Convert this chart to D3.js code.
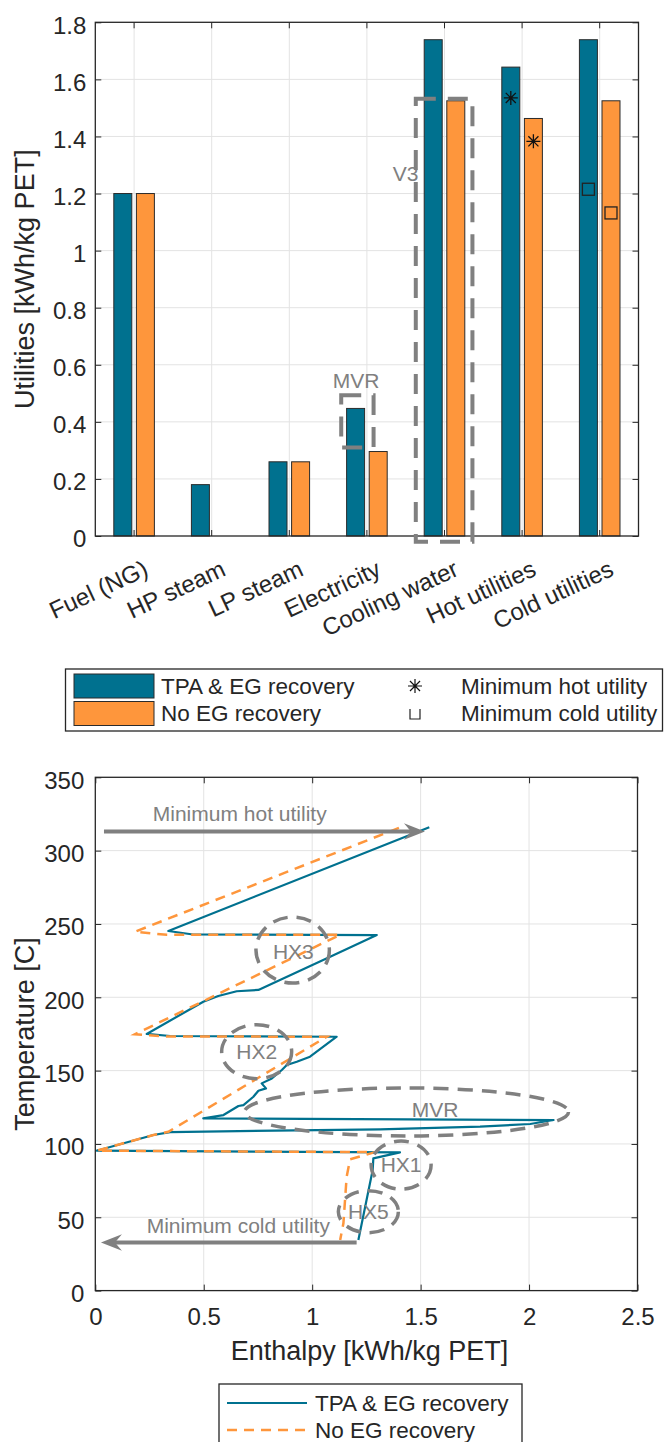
<!DOCTYPE html>
<html><head><meta charset="utf-8">
<script src="https://cdn.jsdelivr.net/npm/d3@7"></script>
<style>
body{margin:0;background:#fff}
svg{display:block}
text{font-family:"Liberation Sans",Arial,Helvetica,sans-serif}
</style>
</head><body>
<svg id="c" width="667" height="1442"></svg>
<script>
// ---------- DATA: top bar chart ----------
const categories = ["Fuel (NG)","HP steam","LP steam","Electricity","Cooling water","Hot utilities","Cold utilities"];
const seriesNames = ["TPA & EG recovery","No EG recovery"];
const tpaValues  = [1.2, 0.18, 0.26, 0.447, 1.739, 1.643, 1.739];
const noEgValues = [1.2, 0,    0.26, 0.296, 1.525, 1.463, 1.525];
const minHotUtility  = [1.535, 1.383];   // on "Hot utilities" bars
const minColdUtility = [1.215, 1.132];   // on "Cold utilities" bars
const yTicksTop = [0,0.2,0.4,0.6,0.8,1,1.2,1.4,1.6,1.8];

// ---------- DATA: bottom composite curves ----------
const tpaCurve = [[1.54,316],[0.337,245.2],[0.45,242.8],[1.298,242.4],[1.083,227.7],[0.752,205],[0.652,204.1],[0.567,200.9],[0.498,197],[0.237,175],[0.345,173.6],[1.113,173.1],[0.990,159.5],[0.929,156.1],[0.883,153.8],[0.860,150.4],[0.814,144.7],[0.767,141.3],[0.787,137.9],[0.752,136.3],[0.729,132.2],[0.683,126.5],[0.660,125.9],[0.591,119.7],[0.498,117.5],[2.113,116.3],[2.005,113.6],[1.774,111.8],[1.313,110],[0.345,108.1],[0.268,106.1],[0.006,95.4],[1.405,94.3],[1.282,90.2],[1.279,82.2],[1.213,34.5]];
const noEgCurve = [[1.40,315.5],[0.183,244.7],[0.33,242.6],[1.129,242.6],[0.183,174.8],[0.33,173.3],[1.067,173.1],[0.337,108.3],[0.268,106.1],[0.006,95.4],[1.29,94.4],[1.175,89.5],[1.159,77.7],[1.144,45.9],[1.129,34.5]];
const xTicksBottom = [0,0.5,1,1.5,2,2.5];
const yTicksBottom = [0,50,100,150,200,250,300,350];
const hotArrow  = [[0.04,313],[1.52,313]];
const coldArrow = [[1.205,32.8],[0.026,32.8]];

const svg = d3.select("#c");
const AX = "#262626", GRID = "#e3e3e3", ANN = "#808080";
const TEAL = "#00718f", ORANGE = "#fe963c";
const TICKFS = 24, LABELFS = 27, LEGFS = 22.5, ANNFS = 21;
const FONT = '"Liberation Sans",Arial,sans-serif';

// ================= TOP CHART =================
const X0 = 95.3, X1 = 638.5, Y0 = 22.3, Y1 = 536;
const gT = svg.append("g");
const xBand = d3.scaleBand().domain(categories).range([X0, X1]).paddingInner(0.477).paddingOuter(0.2385);
const xSub = d3.scaleBand().domain([0,1]).range([0, xBand.bandwidth()]).paddingInner(0.2035);
const xCat = d3.scaleLinear().domain([0.5, 7.5]).range([X0, X1]);
const yT = d3.scaleLinear().domain([0, 1.8]).range([Y1, Y0]);
const cx = c => xBand(c) + xBand.bandwidth()/2;

// grid
gT.append("g").selectAll("line").data(categories).join("line")
  .attr("x1", cx).attr("x2", cx).attr("y1", Y0).attr("y2", Y1)
  .attr("stroke", GRID).attr("stroke-width", 1);
gT.append("g").selectAll("line").data(yTicksTop.slice(1, -1)).join("line")
  .attr("x1", X0).attr("x2", X1).attr("y1", d => yT(d)).attr("y2", d => yT(d))
  .attr("stroke", GRID).attr("stroke-width", 1);

// bars
const barData = [];
categories.forEach((c, i) => {
  barData.push({c, s: 0, v: tpaValues[i]});
  barData.push({c, s: 1, v: noEgValues[i]});
});
gT.append("g").selectAll("rect").data(barData.filter(d => d.v > 0)).join("rect")
  .attr("x", d => xBand(d.c) + xSub(d.s))
  .attr("width", xSub.bandwidth())
  .attr("y", d => yT(d.v))
  .attr("height", d => yT(0) - yT(d.v))
  .attr("fill", d => d.s === 0 ? TEAL : ORANGE)
  .attr("stroke", "#2b2b2b").attr("stroke-width", 1);

// axes
const axL = gT.append("g").attr("transform", `translate(${X0},0)`)
  .call(d3.axisLeft(yT).tickValues(yTicksTop).tickFormat(d3.format("~g")).tickSizeInner(-6).tickSizeOuter(0).tickPadding(9));
const axR = gT.append("g").attr("transform", `translate(${X1},0)`)
  .call(d3.axisRight(yT).tickValues(yTicksTop).tickFormat("").tickSizeInner(-6).tickSizeOuter(0));
const axTop = gT.append("g").attr("transform", `translate(0,${Y0})`)
  .call(d3.axisTop(xBand).tickFormat("").tickSizeInner(-6).tickSizeOuter(0));
const axB = gT.append("g").attr("transform", `translate(0,${Y1})`)
  .call(d3.axisBottom(xBand).tickSizeInner(-6).tickSizeOuter(0).tickPadding(10));
[axL, axR, axTop, axB].forEach(a => {
  a.select(".domain").remove();
  a.selectAll(".tick line").attr("stroke", AX);
  a.selectAll("text").attr("fill", AX).attr("font-size", TICKFS).attr("font-family", FONT);
});
axL.selectAll(".tick text").attr("dy", "0.45em");
axB.selectAll(".tick text")
  .attr("text-anchor", "end")
  .attr("dy", "0.72em")
  .attr("transform", "translate(4,14) rotate(-25)");
gT.append("rect").attr("x", X0).attr("y", Y0).attr("width", X1 - X0).attr("height", Y1 - Y0)
  .attr("fill", "none").attr("stroke", AX).attr("stroke-width", 1.3);

// markers
const starPath = r => { const k = r*0.72; return `M${-r},0L${r},0M0,${-r}L0,${r}M${-k},${-k}L${k},${k}M${-k},${k}L${k},${-k}`; };
gT.append("g").selectAll("path").data(minHotUtility).join("path")
  .attr("transform", (d, i) => `translate(${xBand("Hot utilities") + xSub(i) + xSub.bandwidth()/2},${yT(d)})`)
  .attr("d", starPath(7)).attr("stroke", "#111").attr("stroke-width", 1.3).attr("fill", "none");
gT.append("g").selectAll("rect").data(minColdUtility).join("rect")
  .attr("x", (d, i) => xBand("Cold utilities") + xSub(i) + xSub.bandwidth()/2 - 6)
  .attr("y", d => yT(d) - 6).attr("width", 12).attr("height", 12)
  .attr("fill", "none").attr("stroke", "#222").attr("stroke-width", 1.3);

// annotations top
const annRect = (a, b, lo, hi) => gT.append("rect")
  .attr("x", xCat(a)).attr("width", xCat(b) - xCat(a))
  .attr("y", yT(hi)).attr("height", yT(lo) - yT(hi))
  .attr("fill", "none").attr("stroke", ANN).attr("stroke-width", 4)
  .attr("stroke-dasharray", "20,12");
annRect(3.669, 4.086, 0.31, 0.493);
annRect(4.63, 5.36, -0.02, 1.532);
gT.append("text").attr("x", xCat(3.86)).attr("y", yT(0.545)).attr("text-anchor", "middle")
  .attr("dy", "0.35em").attr("font-size", ANNFS).attr("fill", ANN).text("MVR");
gT.append("text").attr("x", xCat(4.50)).attr("y", yT(1.27)).attr("text-anchor", "middle")
  .attr("dy", "0.35em").attr("font-size", ANNFS).attr("fill", ANN).text("V3");

// legend top
const gL1 = svg.append("g");
gL1.append("rect").attr("x", 65.5).attr("y", 669).attr("width", 597).attr("height", 62)
  .attr("fill", "#fff").attr("stroke", AX).attr("stroke-width", 1.3);
[TEAL, ORANGE].forEach((col, i) => {
  const yc = 686 + i*27.5;
  gL1.append("rect").attr("x", 74).attr("y", yc - 12).attr("width", 80).attr("height", 24)
    .attr("fill", col).attr("stroke", "#2b2b2b").attr("stroke-width", 1);
  gL1.append("text").attr("x", 161).attr("y", yc).attr("dy", "0.35em").attr("font-size", LEGFS)
    .attr("fill", AX).text(seriesNames[i]);
});
gL1.append("path").attr("transform", "translate(415,686)").attr("d", starPath(7))
  .attr("stroke", "#111").attr("stroke-width", 1.2).attr("fill", "none");
gL1.append("path").attr("d", "M410,709V719H420V709")
  .attr("stroke", "#222").attr("stroke-width", 1.2).attr("fill", "none");
gL1.append("text").attr("x", 461).attr("y", 686).attr("dy", "0.35em").attr("font-size", LEGFS).attr("fill", AX).text("Minimum hot utility");
gL1.append("text").attr("x", 461).attr("y", 713.5).attr("dy", "0.35em").attr("font-size", LEGFS).attr("fill", AX).text("Minimum cold utility");

// ================= BOTTOM CHART =================
const BX0 = 95.3, BX1 = 637.5, BY0 = 777.3, BY1 = 1290.6;
const gB = svg.append("g");
const xB = d3.scaleLinear().domain([0, 2.5]).range([BX0, BX1]);
const yB = d3.scaleLinear().domain([0, 350]).range([BY1, BY0]);

gB.append("g").selectAll("line").data(xTicksBottom.slice(1, -1)).join("line")
  .attr("x1", d => xB(d)).attr("x2", d => xB(d)).attr("y1", BY0).attr("y2", BY1)
  .attr("stroke", GRID).attr("stroke-width", 1);
gB.append("g").selectAll("line").data(yTicksBottom.slice(1, -1)).join("line")
  .attr("x1", BX0).attr("x2", BX1).attr("y1", d => yB(d)).attr("y2", d => yB(d))
  .attr("stroke", GRID).attr("stroke-width", 1);

const bL = gB.append("g").attr("transform", `translate(${BX0},0)`)
  .call(d3.axisLeft(yB).tickValues(yTicksBottom).tickFormat(d3.format("d")).tickSizeInner(-6).tickSizeOuter(0).tickPadding(11));
const bR = gB.append("g").attr("transform", `translate(${BX1},0)`)
  .call(d3.axisRight(yB).tickValues(yTicksBottom).tickFormat("").tickSizeInner(-6).tickSizeOuter(0));
const bT = gB.append("g").attr("transform", `translate(0,${BY0})`)
  .call(d3.axisTop(xB).tickValues(xTicksBottom).tickFormat("").tickSizeInner(-6).tickSizeOuter(0));
const bB = gB.append("g").attr("transform", `translate(0,${BY1})`)
  .call(d3.axisBottom(xB).tickValues(xTicksBottom).tickFormat(d3.format("~g")).tickSizeInner(-6).tickSizeOuter(0).tickPadding(17));
[bL, bR, bT, bB].forEach(a => {
  a.select(".domain").remove();
  a.selectAll(".tick line").attr("stroke", AX);
  a.selectAll("text").attr("fill", AX).attr("font-size", TICKFS).attr("font-family", FONT);
});
bL.selectAll(".tick text").attr("dy", "0.45em");

const line = d3.line().x(d => xB(d[0])).y(d => yB(d[1]));
gB.append("path").datum(tpaCurve).attr("d", line).attr("fill", "none")
  .attr("stroke", TEAL).attr("stroke-width", 2.2).attr("stroke-linejoin", "round");
gB.append("path").datum(noEgCurve).attr("d", line).attr("fill", "none")
  .attr("stroke", ORANGE).attr("stroke-width", 2.5).attr("stroke-dasharray", "10,7");

gB.append("rect").attr("x", BX0).attr("y", BY0).attr("width", BX1 - BX0).attr("height", BY1 - BY0)
  .attr("fill", "none").attr("stroke", AX).attr("stroke-width", 1.3);

// arrows
const headPath = "M0,0L-21,-8.3L-14,0L-21,8.3Z";
[hotArrow, coldArrow].forEach(a => {
  const [p0, p1] = a;
  const xa = xB(p0[0]), ya = yB(p0[1]), xb = xB(p1[0]), yb = yB(p1[1]);
  const dir = Math.sign(xb - xa);
  gB.append("line").attr("x1", xa).attr("y1", ya).attr("x2", xb - dir*14).attr("y2", yb)
    .attr("stroke", ANN).attr("stroke-width", 4);
  gB.append("path").attr("d", headPath)
    .attr("transform", `translate(${xb},${yb}) rotate(${dir > 0 ? 0 : 180})`)
    .attr("fill", ANN);
});
gB.append("text").attr("x", xB(0.265)).attr("y", yB(320)).attr("font-size", ANNFS).attr("fill", ANN).text("Minimum hot utility");
gB.append("text").attr("x", xB(0.237)).attr("y", yB(39)).attr("font-size", ANNFS).attr("fill", ANN).text("Minimum cold utility");

// ellipses
const ellipses = [
  {name:"HX3", h:0.91,  t:232.2, rx:36.7, ry:33, lh:0.913, lt:230.8},
  {name:"HX2", h:0.744, t:162.9, rx:35,   ry:27, lh:0.744, lt:162.9},
  {name:"MVR", h:1.435, t:121.8, rx:162,  ry:24, lh:1.567, lt:123.5},
  {name:"HX1", h:1.41,  t:85.6,  rx:30,   ry:24, lh:1.41,  lt:85.6},
  {name:"HX5", h:1.259, t:53.8,  rx:30,   ry:21, lh:1.259, lt:53.8}
];
gB.append("g").selectAll("ellipse").data(ellipses).join("ellipse")
  .attr("cx", d => xB(d.h)).attr("cy", d => yB(d.t)).attr("rx", d => d.rx).attr("ry", d => d.ry)
  .attr("fill", "none").attr("stroke", ANN).attr("stroke-width", 3.5).attr("stroke-dasharray", "15,9");
gB.append("g").selectAll("text").data(ellipses).join("text")
  .attr("x", d => xB(d.lh)).attr("y", d => yB(d.lt)).attr("dy", "0.35em").attr("text-anchor", "middle")
  .attr("font-size", ANNFS).attr("fill", ANN).text(d => d.name);

// axis labels
svg.append("text").attr("transform", `translate(34,${(Y0 + Y1)/2}) rotate(-90)`).attr("text-anchor", "middle")
  .attr("font-size", LABELFS).attr("fill", AX).text("Utilities [kWh/kg PET]");
svg.append("text").attr("transform", `translate(34,${(BY0 + BY1)/2}) rotate(-90)`).attr("text-anchor", "middle")
  .attr("font-size", LABELFS).attr("fill", AX).text("Temperature [C]");
svg.append("text").attr("x", 369.5).attr("y", 1360).attr("text-anchor", "middle")
  .attr("font-size", LABELFS).attr("fill", AX).text("Enthalpy [kWh/kg PET]");

// legend bottom
const gL2 = svg.append("g");
gL2.append("rect").attr("x", 219).attr("y", 1384).attr("width", 303).attr("height", 70)
  .attr("fill", "#fff").attr("stroke", AX).attr("stroke-width", 1.3);
gL2.append("line").attr("x1", 227).attr("x2", 307).attr("y1", 1403).attr("y2", 1403)
  .attr("stroke", TEAL).attr("stroke-width", 2.2);
gL2.append("line").attr("x1", 227).attr("x2", 307).attr("y1", 1430).attr("y2", 1430)
  .attr("stroke", ORANGE).attr("stroke-width", 2.5).attr("stroke-dasharray", "10,7");
gL2.append("text").attr("x", 315).attr("y", 1403).attr("dy", "0.35em").attr("font-size", LEGFS).attr("fill", AX).text(seriesNames[0]);
gL2.append("text").attr("x", 315).attr("y", 1430).attr("dy", "0.35em").attr("font-size", LEGFS).attr("fill", AX).text(seriesNames[1]);
</script>
</body></html>
